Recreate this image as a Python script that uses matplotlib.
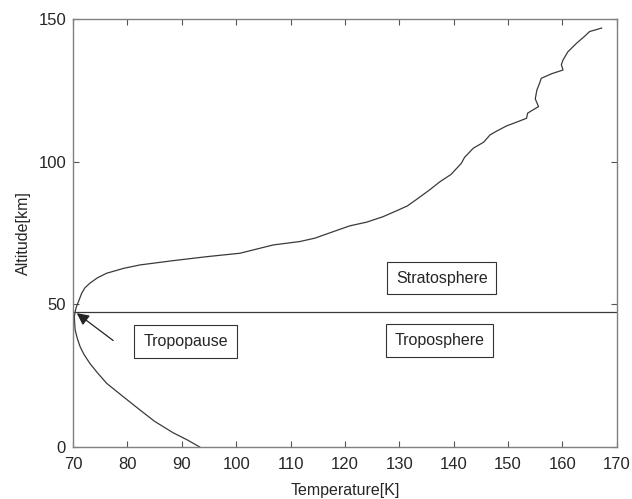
import matplotlib.pyplot as plt

plt.rcParams['font.family'] = ['Liberation Sans', 'DejaVu Sans']

# temperature profile (K, km)
temp_k = [93.3, 91.0, 88.4, 85.0, 82.3, 79.0, 76.2, 74.5, 73.1, 72.0,
          71.3, 70.8, 70.4, 70.3, 70.25, 70.4, 70.6, 71.0, 71.6, 72.2,
          73.1, 74.5, 76.2, 79.3, 82.3, 88.4, 94.6, 100.7, 106.8,
          111.7, 114.5, 117.9, 120.9, 124.0, 127.0, 130.0, 131.5, 133.2,
          135.5, 137.5, 139.5, 141.4, 142.0, 143.6, 145.5, 146.7, 148.0,
          149.7, 151.5, 153.4, 153.6, 155.6, 155.0, 155.3, 155.8, 156.1,
          158.0, 160.1, 159.8, 160.1, 161.0, 162.6, 164.0, 165.0, 167.2]
alt_km = [0.0, 2.5, 5.0, 9.0, 13.0, 18.0, 22.3, 26.0, 29.3, 32.5,
          35.2, 38.0, 41.0, 43.5, 45.7, 47.4, 49.0, 50.9, 53.9, 55.8,
          57.4, 59.3, 60.9, 62.6, 63.8, 65.3, 66.7, 67.9, 70.8,
          72.0, 73.2, 75.5, 77.5, 78.8, 80.7, 83.2, 84.5, 86.8,
          90.0, 93.0, 95.5, 99.4, 101.5, 104.7, 106.8, 109.4, 110.8,
          112.5, 113.8, 115.2, 117.0, 119.3, 122.0, 125.1, 127.5, 129.2,
          130.8, 132.1, 134.0, 135.6, 138.5, 141.5, 143.8, 145.6, 146.8]

tropopause_km = 47.4

fig = plt.figure(figsize=(6.32, 4.99), dpi=100)
ax = fig.add_axes([0.1155, 0.1042, 0.8605, 0.8578])

ax.plot(temp_k, alt_km, color='#3a3a3a', lw=0.9)
ax.axhline(tropopause_km, color='#3a3a3a', lw=0.9)

box = dict(boxstyle='square,pad=0.55', fc='white', ec='#333333', lw=0.8)
ax.text(137.8, 59.2, 'Stratosphere', ha='center', va='center', fontsize=11.5,
        color='#262626', bbox=box)
ax.text(137.4, 37.3, 'Troposphere', ha='center', va='center', fontsize=11.5,
        color='#262626', bbox=box)
ax.text(90.7, 37.0, 'Tropopause', ha='center', va='center', fontsize=11.5,
        color='#262626', bbox=box)
ax.annotate('', xy=(70.7, 46.9), xytext=(77.4, 37.3),
            arrowprops=dict(arrowstyle='-|>', color='#222222', lw=0.9,
                            mutation_scale=18, shrinkA=0, shrinkB=0))

ax.set_xlim(70, 170)
ax.set_ylim(0, 150)
ax.set_xticks(range(70, 171, 10))
ax.set_yticks([0, 50, 100, 150])
ax.tick_params(direction='in', top=True, right=True, length=4,
               width=0.8, color='#555555', labelcolor='#262626', labelsize=12)
ax.tick_params(axis='x', pad=7)
ax.tick_params(axis='y', pad=5)
for s in ax.spines.values():
    s.set_color('#808080')
    s.set_linewidth(1.0)
ax.set_xlabel('Temperature[K]', fontsize=11.5, color='#262626', labelpad=8)
ax.set_ylabel('Altitude[km]', fontsize=11.5, color='#262626', labelpad=5)

fig.savefig('out.png', dpi=100)
